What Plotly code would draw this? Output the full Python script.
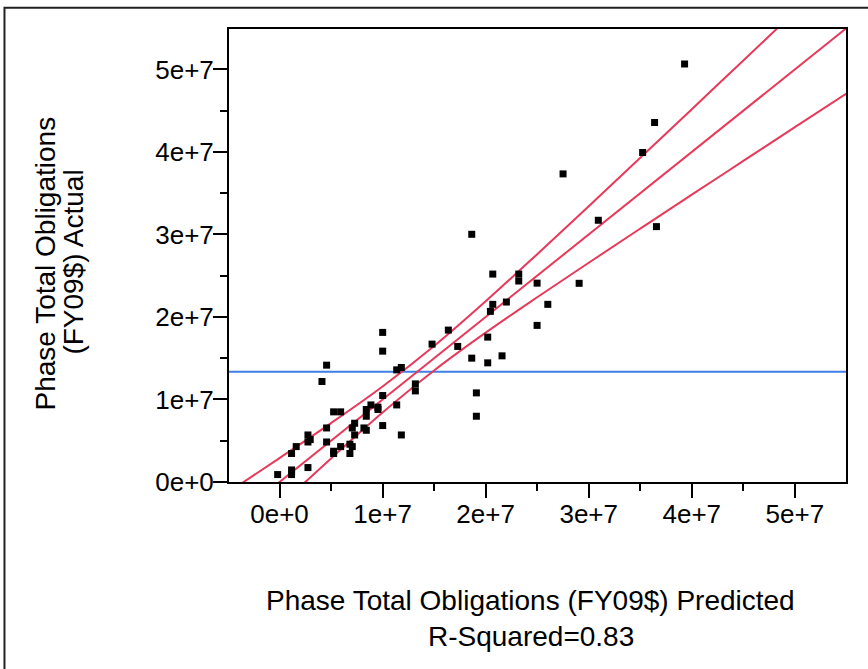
import plotly.graph_objects as go

SCALE = 1e7

# Observed points (units of 1e7 dollars)
predicted = [1.865, 2.069, 2.321, 2.321, 2.499, 2.603, 2.069, 2.046, 2.201, 2.499,
             2.020, 2.159, 2.020, 1.865, 1.729, 1.638, 1.480, 1.910, 1.910, 1.001,
             1.001, 0.457, 0.412, 1.137, 1.182, 1.318, 1.318, 1.001, 1.137, 1.001,
             1.182, 0.887, 0.955, 0.955, 0.842, 0.842, 0.729, 0.706, 0.729, 0.819,
             0.842, 0.525, 0.593, 0.457, 0.457, 0.276, 0.276, 0.298, 0.162, 0.117,
             0.525, 0.525, 0.593, 0.683, 0.706, 0.683, 0.276, 0.117, 0.117, -0.018,
             3.930, 3.639, 3.523, 2.751, 3.093, 3.657, 2.907]
actual = [3.002, 2.520, 2.520, 2.436, 2.410, 2.153, 2.153, 2.068, 2.181, 1.898,
          1.756, 1.529, 1.444, 1.501, 1.643, 1.841, 1.671, 1.080, 0.797, 1.813,
          1.586, 1.416, 1.218, 1.359, 1.388, 1.189, 1.104, 1.048, 0.934, 0.684,
          0.570, 0.934, 0.907, 0.879, 0.879, 0.797, 0.712, 0.655, 0.570, 0.655,
          0.627, 0.850, 0.850, 0.655, 0.485, 0.570, 0.485, 0.514, 0.429, 0.345,
          0.373, 0.345, 0.429, 0.458, 0.429, 0.345, 0.175, 0.146, 0.090, 0.090,
          5.066, 4.357, 3.993, 3.734, 3.172, 3.095, 2.408]

# Fit line (actual = predicted) and mean of actual
fit_x = [-0.5, 5.5]
fit_y = [-0.5, 5.5]
mean_actual = 1.335

# Confidence curves
curve_x = [-0.5, 0.0, 0.5, 1.0, 1.5, 2.0, 2.5, 3.0, 3.5, 4.0, 4.5, 5.0, 5.5]
upper_y = [-0.127, 0.290, 0.714, 1.158, 1.648, 2.190, 2.761, 3.343, 3.929, 4.518, 5.109, 5.700, 6.292]
lower_y = [-0.873, -0.290, 0.286, 0.842, 1.352, 1.810, 2.239, 2.657, 3.071, 3.482, 3.891, 4.300, 4.708]

tick_vals = [0, 1, 2, 3, 4, 5]
tick_text = ["0e+0", "1e+7", "2e+7", "3e+7", "4e+7", "5e+7"]

x_range = [-0.49, 5.496]
y_range = [0, 5.49]

RED = "#E8395A"
BLUE = "#3F7FE6"
FONT = "Liberation Sans, Arial, sans-serif"

# plot-area pixel box (page coordinates)
PL, PR, PT, PB = 229.3, 845.7, 29.3, 481.7
PW, PH = PR - PL, PB - PT


def sc(v):
    return [a * SCALE for a in v]


def px(xp):
    return (xp - PL) / PW


def py(yp):
    return (PB - yp) / PH


fig = go.Figure()
fig.add_trace(go.Scatter(x=sc(x_range), y=[mean_actual * SCALE] * 2, mode="lines",
                         line=dict(color=BLUE, width=2), hoverinfo="skip"))
fig.add_trace(go.Scatter(x=sc(curve_x), y=sc(upper_y), mode="lines",
                         line=dict(color=RED, width=2, shape="spline"), hoverinfo="skip"))
fig.add_trace(go.Scatter(x=sc(fit_x), y=sc(fit_y), mode="lines",
                         line=dict(color=RED, width=2), hoverinfo="skip"))
fig.add_trace(go.Scatter(x=sc(curve_x), y=sc(lower_y), mode="lines",
                         line=dict(color=RED, width=2, shape="spline"), hoverinfo="skip"))
fig.add_trace(go.Scatter(x=sc(predicted), y=sc(actual), mode="markers",
                         marker=dict(symbol="square", size=7, color="black", line=dict(width=0)),
                         cliponaxis=False))

axis_common = dict(
    showgrid=False, zeroline=False, showline=True, linecolor="black", linewidth=2,
    mirror=True, ticks="outside", ticklen=14, tickwidth=2, tickcolor="black",
    tickvals=sc(tick_vals), ticktext=tick_text,
    tickfont=dict(family=FONT, size=26, color="black"),
    minor=dict(ticks="outside", ticklen=7, tickwidth=2, tickcolor="black",
               dtick=0.5 * SCALE, tick0=0.5 * SCALE),
)

fig.update_layout(
    width=868, height=669,
    margin=dict(l=PL, r=868 - PR, t=PT, b=669 - PB),
    paper_bgcolor="white", plot_bgcolor="white",
    showlegend=False,
    xaxis=dict(range=sc(x_range), ticklabelstandoff=-6, **axis_common),
    yaxis=dict(range=sc(y_range), ticklabelstandoff=-6, **axis_common),
    font=dict(family=FONT, color="black"),
)

# outer frame
fig.add_shape(type="rect", xref="paper", yref="paper",
              x0=px(5), x1=px(880), y0=py(690), y1=py(8),
              line=dict(color="#222222", width=2), layer="below")

title_font = dict(family=FONT, size=28, color="black")
fig.add_annotation(text="Phase Total Obligations (FY09$) Predicted", xref="paper", yref="paper",
                   x=px(531), y=py(600), showarrow=False,
                   xanchor="center", yanchor="middle", font=title_font)
fig.add_annotation(text="R-Squared=0.83", xref="paper", yref="paper",
                   x=px(531), y=py(636), showarrow=False,
                   xanchor="center", yanchor="middle", font=title_font)
fig.add_annotation(text="Phase Total Obligations", xref="paper", yref="paper",
                   x=px(45), y=py(264), showarrow=False,
                   textangle=-90, xanchor="center", yanchor="middle", font=title_font)
fig.add_annotation(text="(FY09$) Actual", xref="paper", yref="paper",
                   x=px(73), y=py(262), showarrow=False,
                   textangle=-90, xanchor="center", yanchor="middle", font=title_font)

fig.write_html("out.html", config={"displayModeBar": False},
               post_script="document.body.style.margin='0px';")
